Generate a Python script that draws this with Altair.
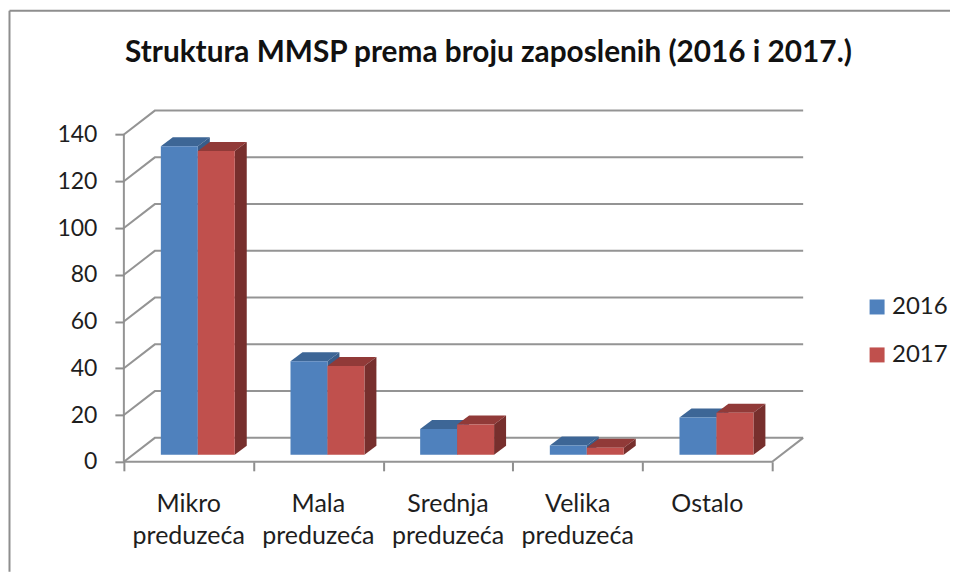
import altair as alt
import pandas as pd

categories = ["Mikro preduzeća", "Mala preduzeća", "Srednja preduzeća", "Velika preduzeća", "Ostalo"]
cat_lines = ["Mikro\npreduzeća", "Mala\npreduzeća", "Srednja\npreduzeća", "Velika\npreduzeća", "Ostalo"]
v2016 = [132, 40, 11, 4, 16]
v2017 = [130, 38, 13, 3, 18]
series = ["2016", "2017"]
ticks = [0, 20, 40, 60, 80, 100, 120, 140]
title_text = "Struktura MMSP prema broju zaposlenih (2016 i 2017.)"

FRONT = {"2016": "#4F81BD", "2017": "#C0504D"}
TOP = {"2016": "#3D6696", "2017": "#913A38"}
SIDE = {"2016": "#385D8A", "2017": "#772F2D"}
GRID = "#8E8E8E"
TEXT = "#1E1E1E"
FONT = "Lato"

W, H = 943, 564
PX_CAT = 129.8   # pixels per category
PX_VAL = 2.34    # pixels per value unit
X0_IMG, Y0_IMG = 124, 462

xdom = [(8 - X0_IMG) / PX_CAT, (8 + W - X0_IMG) / PX_CAT]
ydom = [(Y0_IMG - (8 + H)) / PX_VAL, (Y0_IMG - 8) / PX_VAL]
xs = alt.Scale(domain=xdom, nice=False, zero=False)
ys = alt.Scale(domain=ydom, nice=False, zero=False)

wall_dx, wall_dy = 31 / PX_CAT, 24 / PX_VAL
bar_dx, bar_dy = 12 / PX_CAT, 9 / PX_VAL
bar_w = 37 / PX_CAT
bar_base = 7 / PX_VAL

# walls and floor
lines = []
for t in ticks:
    lines += [
        {"id": f"g{t}", "o": 0, "x": 0, "y": t},
        {"id": f"g{t}", "o": 1, "x": wall_dx, "y": t + wall_dy},
        {"id": f"g{t}", "o": 2, "x": 5 + wall_dx, "y": t + wall_dy},
    ]
lines += [
    {"id": "front", "o": 0, "x": 0, "y": 0},
    {"id": "front", "o": 1, "x": 5, "y": 0},
    {"id": "front", "o": 2, "x": 5 + wall_dx, "y": wall_dy},
    {"id": "axis", "o": 0, "x": 0, "y": 0},
    {"id": "axis", "o": 1, "x": 0, "y": 140},
]

# 3D faces and fronts of the bars
faces, fronts = [], []
for s, vals in zip(series, [v2016, v2017]):
    for i, v in enumerate(vals):
        x0 = i + bar_w * (1 + series.index(s))
        x1 = x0 + bar_w
        top = v + bar_base
        fronts.append({"series": s, "x": x0, "x2": x1, "y": top, "y2": bar_base})
        fid = f"t{s}{i}"
        for px, a, b in [
            (x0, top, top),
            (x0 + bar_dx, top + bar_dy, top),
            (x1, top + bar_dy, top),
            (x1 + bar_dx, top + bar_dy, top + bar_dy),
        ]:
            faces.append({"id": fid, "fill": TOP[s], "x": px, "y": a, "y2": b})
        fid = f"s{s}{i}"
        for px, a, b in [
            (x1, top, bar_base),
            (x1 + bar_dx, top + bar_dy, bar_base + bar_dy),
        ]:
            faces.append({"id": fid, "fill": SIDE[s], "x": px, "y": a, "y2": b})

x_axis = alt.Axis(values=list(range(6)), labels=False, domain=False, grid=False, title=None,
                  ticks=True, tickSize=9, tickWidth=2, tickColor=GRID, offset=-(8 + H - Y0_IMG))
y_axis = alt.Axis(values=ticks, domain=False, grid=False, title=None, tickSize=9, tickWidth=2,
                  tickColor=GRID, offset=-(X0_IMG - 8), labelPadding=18, labelFont=FONT,
                  labelFontSize=23, labelColor=TEXT)

line_layer = alt.Chart(pd.DataFrame(lines)).mark_line(color=GRID, strokeWidth=2, opacity=0.95).encode(
    x=alt.X("x:Q", scale=xs, axis=x_axis),
    y=alt.Y("y:Q", scale=ys, axis=y_axis),
    detail="id:N",
    order="o:Q",
)

face_layer = alt.Chart(pd.DataFrame(faces)).mark_area(line=False).encode(
    x=alt.X("x:Q", scale=xs, axis=x_axis),
    y=alt.Y("y:Q", scale=ys, axis=y_axis, stack=None),
    y2="y2:Q",
    fill=alt.Fill("fill:N", scale=None),
    detail="id:N",
)

front_layer = alt.Chart(pd.DataFrame(fronts)).mark_rect().encode(
    x=alt.X("x:Q", scale=xs, axis=x_axis),
    x2="x2:Q",
    y=alt.Y("y:Q", scale=ys, axis=y_axis),
    y2="y2:Q",
    color=alt.Color(
        "series:N",
        scale=alt.Scale(domain=series, range=[FRONT[s] for s in series]),
        legend=alt.Legend(
            title=None, orient="none", legendX=858, legendY=287, padding=0,
            symbolType="square", symbolSize=225, symbolStrokeWidth=0,
            labelFont=FONT, labelFontSize=24, labelColor=TEXT, labelOffset=3, rowPadding=24,
        ),
    ),
)

label_df = pd.DataFrame({
    "x": [i + 0.5 for i in range(5)],
    "y": [(Y0_IMG - 492) / PX_VAL] * 5,
    "label": cat_lines,
})
label_layer = alt.Chart(label_df).mark_text(
    lineBreak="\n", align="center", baseline="top", font=FONT, fontSize=25, lineHeight=32, color=TEXT,
).encode(
    x=alt.X("x:Q", scale=xs, axis=x_axis),
    y=alt.Y("y:Q", scale=ys, axis=y_axis),
    text="label:N",
)

title_layer = alt.Chart(pd.DataFrame({"t": [title_text]})).mark_text(
    align="center", baseline="middle", font=FONT, fontWeight="bold", fontSize=29.8, color="#111111",
).encode(x=alt.value(489 - 8), y=alt.value(53 - 8), text="t:N")

frame_top = alt.Chart(pd.DataFrame({"a": [0]})).mark_rule(color=GRID, strokeWidth=2).encode(
    x=alt.value(1.5), x2=alt.value(W), y=alt.value(2.5))
frame_left = alt.Chart(pd.DataFrame({"a": [0]})).mark_rule(color=GRID, strokeWidth=2).encode(
    x=alt.value(1.5), y=alt.value(2.5), y2=alt.value(H))

chart = alt.layer(
    frame_top, frame_left, line_layer, face_layer, front_layer, label_layer, title_layer
).resolve_scale(x="shared", y="shared").properties(
    width=W, height=H, padding=0, background="white",
).configure_view(stroke=None)

chart.save("out.html", embed_options={"renderer": "svg", "actions": False})
